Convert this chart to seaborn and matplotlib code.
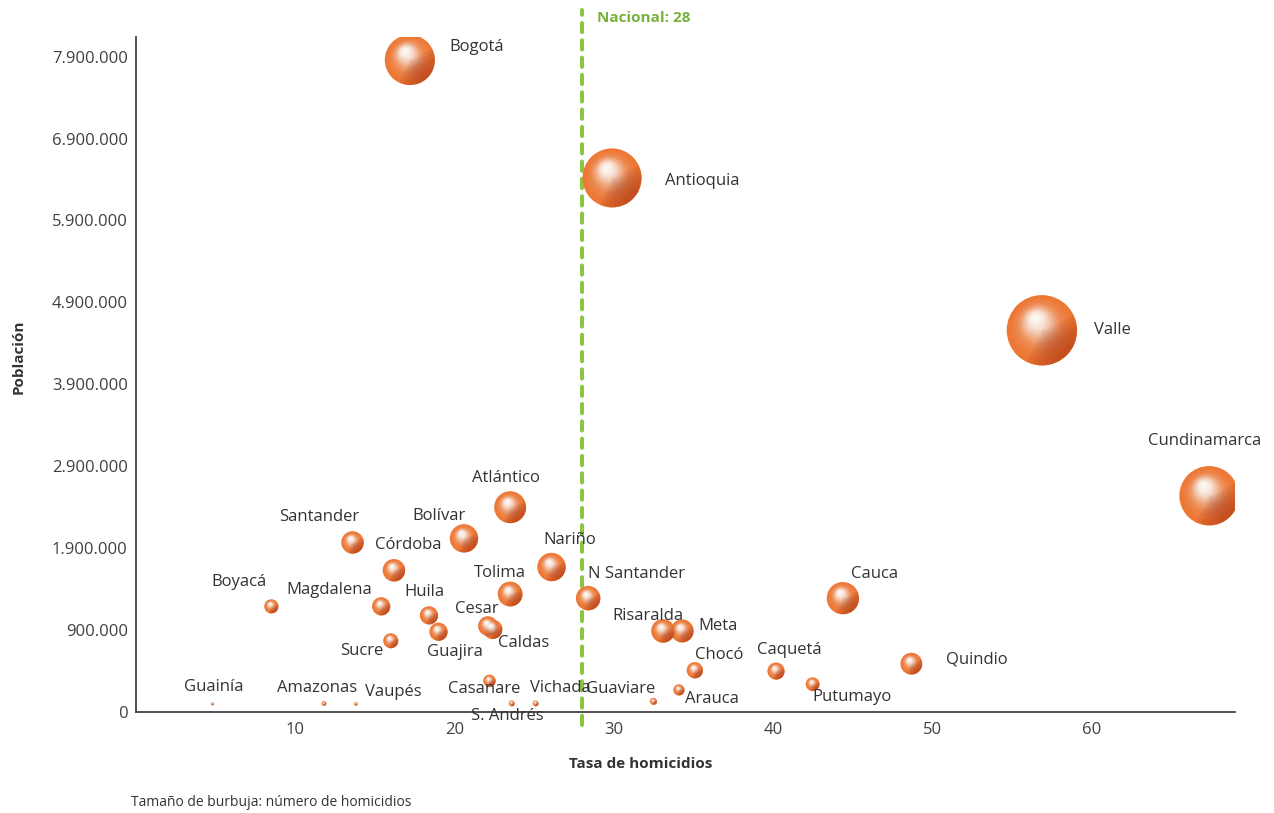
import numpy as np
import pandas as pd
import matplotlib
matplotlib.use('Agg')
import matplotlib.pyplot as plt
import seaborn as sns
from matplotlib.path import Path

# Datos
departamentos = ['Bogotá', 'Antioquia', 'Valle', 'Cundinamarca', 'Atlántico', 'Bolívar',
                 'Santander', 'Córdoba', 'Nariño', 'Tolima', 'N Santander', 'Cauca',
                 'Boyacá', 'Magdalena', 'Huila', 'Cesar', 'Caldas', 'Guajira', 'Sucre',
                 'Risaralda', 'Meta', 'Chocó', 'Caquetá', 'Putumayo', 'Quindio',
                 'Casanare', 'Arauca', 'Guaviare', 'Vichada', 'S. Andrés', 'Amazonas',
                 'Vaupés', 'Guainía']
tasa = [17.2, 29.9, 56.9, 67.4, 23.5, 20.6,
        13.6, 16.2, 26.1, 23.5, 28.4, 44.4,
        8.5, 15.4, 18.4, 22.1, 22.4, 19.0, 16.0,
        33.1, 34.3, 35.1, 40.2, 42.5, 48.7,
        22.2, 34.1, 32.5, 25.1, 23.6, 11.8,
        13.8, 4.8]
poblacion = [7860000, 6420000, 4560000, 2540000, 2400000, 2020000,
             1970000, 1630000, 1670000, 1340000, 1290000, 1290000,
             1190000, 1190000, 1080000, 950000, 910000, 880000, 770000,
             890000, 890000, 410000, 400000, 240000, 490000,
             280000, 170000, 30000, 5000, 5000, 5000,
             0, 0]
homicidios = [1320, 1830, 2600, 1850, 535, 422,
              266, 266, 422, 323, 314, 546,
              106, 175, 175, 200, 200, 175, 119,
              292, 279, 140, 155, 100, 250,
              81, 66, 26, 18, 18, 12,
              7, 5]

y_tick_vals = [-100000, 900000, 1900000, 2900000, 3900000, 4900000, 5900000, 6900000, 7900000]
y_tick_labels = ['0', '900.000', '1.900.000', '2.900.000', '3.900.000', '4.900.000',
                 '5.900.000', '6.900.000', '7.900.000']
x_ticks = [10, 20, 30, 40, 50, 60]
nacional = 28

# desplazamiento de cada etiqueta (pixeles, x derecha / y arriba)
label_offsets = {
    'Bogotá': (67, 13), 'Antioquia': (90, -3), 'Valle': (71, 0), 'Cundinamarca': (-4, 55),
    'Atlántico': (-4, 29), 'Bolívar': (-25, 22), 'Santander': (-33, 25), 'Córdoba': (14, 25),
    'Nariño': (18, 27), 'Tolima': (-10, 21), 'N Santander': (48, 24), 'Cauca': (32, 24),
    'Boyacá': (-32, 24), 'Magdalena': (-52, 16), 'Huila': (-5, 23), 'Cesar': (-11, 17),
    'Caldas': (31, -14), 'Guajira': (16, -20), 'Sucre': (-29, -10), 'Risaralda': (-15, 15),
    'Meta': (36, 5), 'Chocó': (24, 15), 'Caquetá': (13, 21), 'Putumayo': (39, -13),
    'Quindio': (65, 4), 'Casanare': (-5, -8), 'Arauca': (33, -9), 'Guaviare': (-33, 12),
    'Vichada': (25, 15), 'S. Andrés': (-4, -13), 'Amazonas': (-7, 15), 'Vaupés': (38, 12),
    'Guainía': (1, 17),
}

df = pd.DataFrame({'departamento': departamentos, 'tasa': tasa,
                   'poblacion': poblacion, 'homicidios': homicidios})

sns.set_style('white')
plt.rcParams['font.family'] = ['Open Sans', 'DejaVu Sans']

W, H, DPI = 1274, 813, 100
fig = plt.figure(figsize=(W / DPI, H / DPI), dpi=DPI)
ax = fig.add_axes([136 / W, 1 - 712 / H, (1235 - 136) / W, (712 - 37) / H])
ax.set_xlim(0, 69.03)
ax.set_ylim(-100000, 8140000)

HMAX = 2600
SMAX = 2566  # area en pt^2 de la burbuja mayor
sns.scatterplot(data=df, x='tasa', y='poblacion', size='homicidios',
                sizes=(0, SMAX), size_norm=(0, HMAX), color='#ed7835',
                linewidth=0, legend=False, ax=ax, zorder=3)


def wedge(a0, a1):
    # cuarto de disco (abajo-derecha); el primer punto fija la escala del marcador
    th = np.radians(np.linspace(a0, a1, 40))
    verts = [(1, 0), (0, 0)] + list(zip(np.cos(th), np.sin(th))) + [(0, 0)]
    codes = [Path.MOVETO, Path.MOVETO] + [Path.LINETO] * len(th) + [Path.CLOSEPOLY]
    return Path(verts, codes)


s_base = np.array(homicidios) * SMAX / HMAX
r_px = np.sqrt(s_base / np.pi) * DPI / 72

# cuadrante oscuro abajo-derecha, con bordes suaves
for a0, a1 in [(-115, 25), (-105, 15), (-95, 5), (-85, -5), (-75, -15), (-65, -25)]:
    ax.scatter(df['tasa'], df['poblacion'], s=s_base, marker=wedge(a0, a1),
               color='#b9441a', alpha=0.2, linewidths=0, zorder=3.05)

# brillo blanco hacia arriba-izquierda (gradiente radial por capas)
pts = ax.transData.transform(np.column_stack([df['tasa'], df['poblacion']]))
highlight = np.array([-0.17, 0.33])
radios = np.linspace(0.85, 0.02, 28)
g = 3.3 * np.exp(-(radios / 0.31) ** 1.5)
alphas = 1 - np.exp(-np.diff(np.concatenate([[0.0], g])))
for k, (f, a) in enumerate(zip(radios, alphas)):
    disp = pts + np.outer(r_px, highlight * (1 - f) / 0.98)
    dat = ax.transData.inverted().transform(disp)
    ax.scatter(dat[:, 0], dat[:, 1], s=s_base * f ** 2, color='white', alpha=float(a),
               linewidths=0, zorder=3.1 + k * 0.01)

for name, x, y in zip(departamentos, tasa, poblacion):
    dx, dy = label_offsets[name]
    ax.annotate(name, (x, y), xytext=(dx, dy), textcoords='offset pixels',
                ha='center', va='center', fontsize=12, color='#333333', zorder=5)

# linea nacional
ax.axvline(nacional, ymin=-13 / 675, ymax=(712 - 10) / 675, color='#8cc63e', lw=2.9,
           dashes=(2.3, 2.0), dash_capstyle='round', clip_on=False, zorder=2)
ax.text(nacional + 0.95, (712 - 18) / 675, f'Nacional: {nacional}',
        transform=ax.get_xaxis_transform(), ha='left', va='center', fontsize=11,
        fontweight='bold', color='#76b13b')

ax.set_xticks(x_ticks)
ax.set_xticklabels([str(v) for v in x_ticks])
ax.set_yticks(y_tick_vals)
ax.set_yticklabels(y_tick_labels)
ax.tick_params(axis='both', labelsize=12, colors='#404040', length=4, width=1,
               direction='out', pad=3)
ax.tick_params(axis='y', length=3)
for side in ['top', 'right']:
    ax.spines[side].set_visible(False)
for side in ['left', 'bottom']:
    ax.spines[side].set_color('#333333')
    ax.spines[side].set_linewidth(1.2)
ax.set_xlabel('')
ax.set_ylabel('')
ax.grid(False)

fig.text(641 / W, 1 - 764 / H, 'Tasa de homicidios', ha='center', va='center',
         fontsize=11, fontweight='bold', color='#333333')
fig.text(19 / W, 1 - 357 / H, 'Población', ha='center', va='center', rotation=90,
         fontsize=11, fontweight='bold', color='#333333')
fig.text(131 / W, 1 - 802 / H, 'Tamaño de burbuja: número de homicidios', ha='left',
         va='center', fontsize=10, color='#333333')

fig.savefig('out.png', dpi=DPI)
